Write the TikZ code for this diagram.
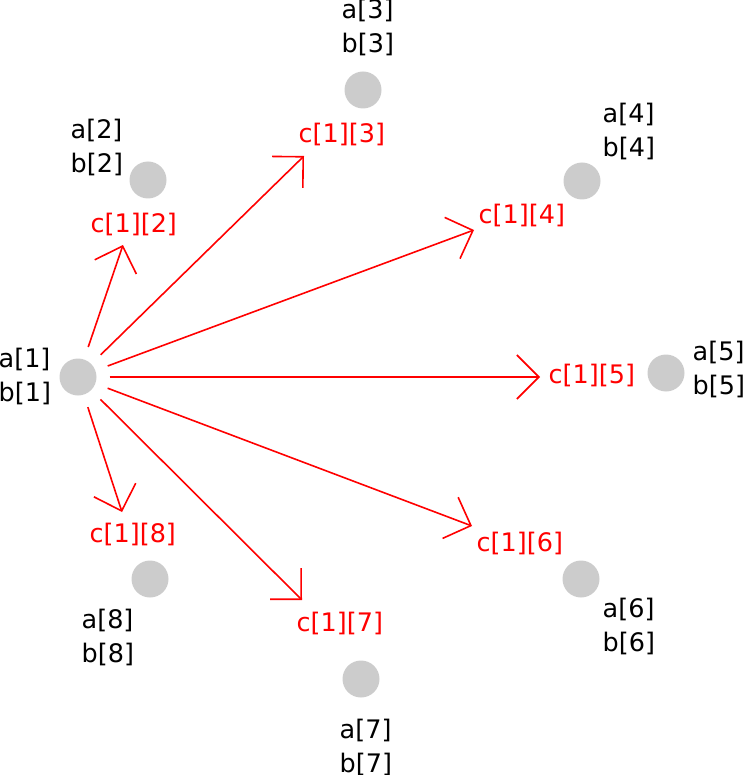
\documentclass[tikz,border=0pt]{standalone}
\usepackage{fontspec}
\setmainfont{DejaVu Sans}
\usetikzlibrary{arrows.meta}
\definecolor{dotgray}{HTML}{CCCCCC}

\begin{document}
\begin{tikzpicture}[x=1pt, y=-1pt, >={Straight Barb[length=22pt, width=44pt]},
    dot/.style={circle, fill=dotgray, minimum size=37pt, inner sep=0pt},
    lbl/.style={anchor=base west, inner sep=0pt, align=left, font=\fontsize{25.5}{34}\selectfont},
    clbl/.style={lbl, text=red}]
    \useasboundingbox (0,0) rectangle (742,775);
    % Draw points
    \node[dot] (p1) at (78,377) {};
    \node[dot] (p2) at (148,180) {};
    \node[dot] (p3) at (363,90) {};
    \node[dot] (p4) at (582,181) {};
    \node[dot] (p5) at (666,373) {};
    \node[dot] (p6) at (581,579) {};
    \node[dot] (p7) at (361,679) {};
    \node[dot] (p8) at (150,579) {};
    % Draw point labels (placed at the baseline of the last line)
    \node[lbl] (ab1) at (-1.5,401) {a[1]\\b[1]};
    \node[lbl] (ab2) at (70.5,173) {a[2]\\b[2]};
    \node[lbl] (ab3) at (341.5,53) {a[3]\\b[3]};
    \node[lbl] (ab4) at (602.5,157) {a[4]\\b[4]};
    \node[lbl] (ab5) at (692.5,394) {a[5]\\b[5]};
    \node[lbl] (ab6) at (602.5,651) {a[6]\\b[6]};
    \node[lbl] (ab7) at (339.5,772) {a[7]\\b[7]};
    \node[lbl] (ab8) at (81.5,662) {a[8]\\b[8]};
    % Draw c labels
    \node[clbl] (c2) at (90.5,233) {c[1][2]};
    \node[clbl] (c3) at (298.5,143) {c[1][3]};
    \node[clbl] (c4) at (478.5,224) {c[1][4]};
    \node[clbl] (c5) at (548.5,383) {c[1][5]};
    \node[clbl] (c6) at (476.5,551) {c[1][6]};
    \node[clbl] (c7) at (296.5,631) {c[1][7]};
    \node[clbl] (c8) at (89.5,542) {c[1][8]};
    % Arrow ends
    \coordinate (t2) at (123,245);
    \coordinate (t3) at (304,156);
    \coordinate (t4) at (474,230);
    \coordinate (t5) at (540,377);
    \coordinate (t6) at (472,526);
    \coordinate (t7) at (302,600);
    \coordinate (t8) at (122,512);
    % Draw arrows
    \foreach \i in {2,...,8}
        \draw[->, red, line width=1.6pt, shorten <=13pt] (p1) -- (t\i);
\end{tikzpicture}
\end{document}
